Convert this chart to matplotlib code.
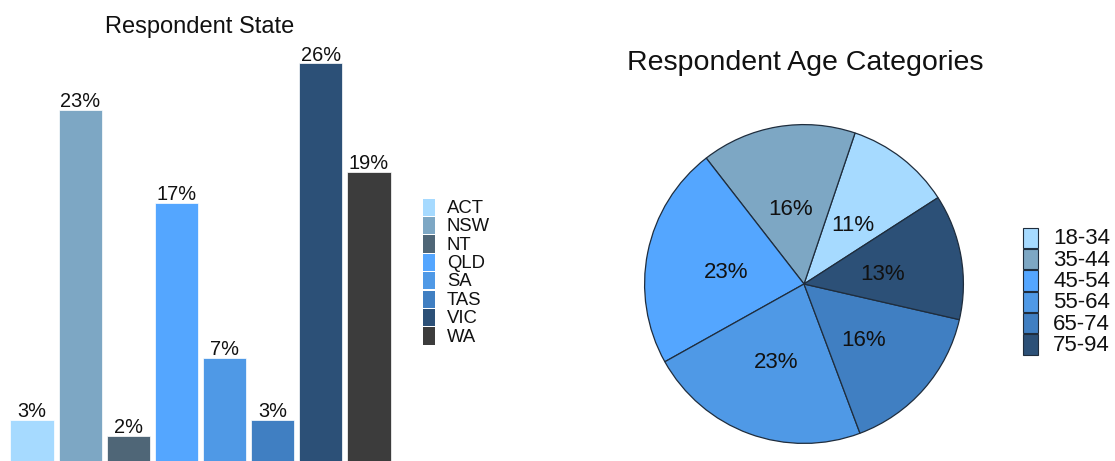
import matplotlib
matplotlib.use("Agg")
import matplotlib.pyplot as plt
from matplotlib.patches import Rectangle

plt.rcParams['font.family'] = ['Liberation Sans', 'DejaVu Sans']

# ---- data ----
states = ['ACT', 'NSW', 'NT', 'QLD', 'SA', 'TAS', 'VIC', 'WA']
state_pct = [3, 23, 2, 17, 7, 3, 26, 19]
state_colors = ['#A6DAFF', '#7DA7C4', '#4F6677', '#54A6FF', '#4F99E6', '#407FC2', '#2C5077', '#3C3C3C']

age_groups = ['18-34', '35-44', '45-54', '55-64', '65-74', '75-94']
age_pct = [10.7, 15.7, 22.6, 22.6, 15.7, 12.7]
age_colors = ['#A6DAFF', '#7DA7C4', '#54A6FF', '#4F99E6', '#407FC2', '#2C5077']

W, H = 1115, 461
fig = plt.figure(figsize=(W / 100, H / 100), dpi=100)
txt_color = '#111111'

def fx(px):
    return px / W

def fy(py):
    return (H - py) / H

# ---- bar chart ----
ymax = 28
px_per_pct = 15.5
zero_py = 466.5
top_py = zero_py - ymax * px_per_pct
ax = fig.add_axes([fx(8), fy(zero_py), fx(393) - fx(8), (zero_py - top_py) / H])
ax.bar(range(len(states)), state_pct, width=0.9, color=state_colors,
       edgecolor='white', linewidth=0.5)
for i, v in enumerate(state_pct):
    ax.annotate(f'{v}%', (i, v), xytext=(0, 2), textcoords='offset points',
                ha='center', va='baseline', fontsize=14.4, color=txt_color)
ax.set_xlim(-0.5, len(states) - 0.5)
ax.set_ylim(0, ymax)
ax.axis('off')

fig.text(fx(200), fy(27), 'Respondent State', ha='center', va='center',
         fontsize=17, color=txt_color)

# bar legend
row_h = 18.4
y0 = 198
for i, (lab, c) in enumerate(zip(states, state_colors)):
    top = y0 + i * row_h
    fig.patches.append(Rectangle((fx(423), fy(top + row_h - 0.6)), fx(435) - fx(423),
                                 (row_h - 1.2) / H, transform=fig.transFigure,
                                 facecolor=c, edgecolor='none'))
    fig.text(fx(447), fy(top + row_h / 2 + 1), lab, ha='left', va='center',
             fontsize=13.3, color=txt_color)

# ---- pie chart ----
cx, cy, r = 804, 284, 161
axp = fig.add_axes([fx(cx - r), fy(cy + r), 2 * r / W, 2 * r / H])
wedges, texts, autotexts = axp.pie(age_pct, colors=age_colors, startangle=32.8, counterclock=True,
        autopct='%.0f%%', pctdistance=0.5,
        wedgeprops=dict(edgecolor='#1f2d3d', linewidth=0.9),
        textprops=dict(fontsize=16, color=txt_color))
for t in autotexts:
    t.set_y(t.get_position()[1] - 4.0 / r)
axp.set_xlim(-1.01, 1.01)
axp.set_ylim(-1.01, 1.01)

fig.text(fx(805), fy(63), 'Respondent Age Categories', ha='center', va='center',
         fontsize=20.5, color=txt_color)

# pie legend
row_h2 = 21.3
y02 = 227.3
for i, (lab, c) in enumerate(zip(age_groups, age_colors)):
    top = y02 + i * row_h2
    fig.patches.append(Rectangle((fx(1023), fy(top + row_h2 - 0.5)), fx(1038) - fx(1023),
                                 (row_h2 - 1.0) / H, transform=fig.transFigure,
                                 facecolor=c, edgecolor='#1f2d3d', linewidth=0.8))
    fig.text(fx(1053), fy(top + row_h2 / 2 + 1), lab, ha='left', va='center',
             fontsize=16, color=txt_color)

fig.savefig('out.png', dpi=100)
